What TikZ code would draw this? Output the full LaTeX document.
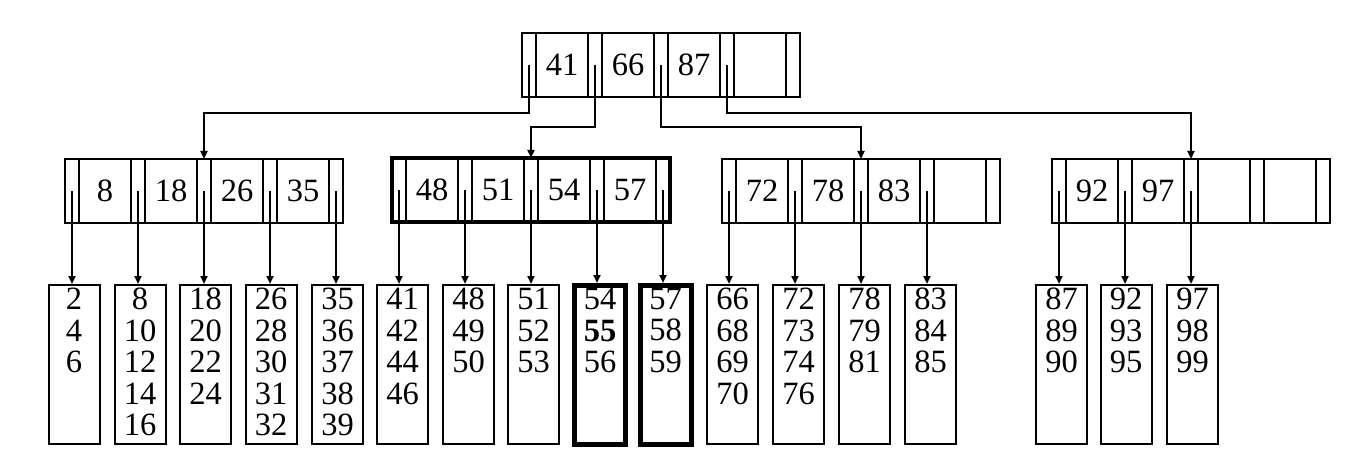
\documentclass[tikz,border=0pt]{standalone}
\usepackage{fontspec}
\setmainfont{Liberation Serif}
\usetikzlibrary{arrows.meta}
\tikzset{
  conn/.style={line width=2pt, -{Triangle[length=8pt,width=7pt]}},
  keylabel/.style={inner sep=0pt, font=\fontsize{32.5}{31.5}\selectfont},
  leafbox/.style={draw, line width=2pt, minimum width=51pt, minimum height=159pt, anchor=north, inner sep=0pt},
  hotleaf/.style={leafbox, line width=5pt},
  leaftext/.style={inner sep=0pt, anchor=north, align=center, font=\fontsize{32.5}{31.5}\selectfont},
}
% name, xleft, ytop, k1, k2, k3, k4, frame width
\newcommand\bnode[8]{%
  \begin{scope}[shift={(#2,#3)}]
    \foreach \xa in {14,66,80,132,146,198,212,264}
      \draw[line width=2pt] (\xa,0) -- (\xa,64);
    \node[draw, line width=#8, minimum width=278pt, minimum height=64pt, inner sep=0pt, anchor=north west, outer sep=0pt] (#1) at (0,0) {};
    \node[keylabel] (#1k1) at (40,32) {#4};
    \node[keylabel] (#1k2) at (106,32) {#5};
    \node[keylabel] (#1k3) at (172,32) {#6};
    \node[keylabel] (#1k4) at (238,32) {#7};
    \coordinate (#1p0) at (7,32);
    \coordinate (#1p1) at (73,32);
    \coordinate (#1p2) at (139,32);
    \coordinate (#1p3) at (205,32);
    \coordinate (#1p4) at (271,32);
  \end{scope}}
\begin{document}
\begin{tikzpicture}[x=1pt,y=-1pt]
\useasboundingbox (0,0) rectangle (1365,473);
\fill[white] (0,0) rectangle (1365,473);

\bnode{R}{522}{33}{41}{66}{87}{}{2pt}
\bnode{A}{65}{159}{8}{18}{26}{35}{2pt}
\bnode{B}{392}{158}{48}{51}{54}{57}{4.5pt}
\bnode{C}{722}{159}{72}{78}{83}{}{2pt}
\bnode{D}{1052}{159}{92}{97}{}{}{2pt}

% leaves
\node[leafbox] (L1) at (74.5,284) {};
\node[leafbox] (L2) at (140,284) {};
\node[leafbox] (L3) at (205.5,284) {};
\node[leafbox] (L4) at (271,284) {};
\node[leafbox] (L5) at (337.5,284) {};
\node[leafbox] (L6) at (402.5,284) {};
\node[leafbox] (L7) at (468.5,284) {};
\node[leafbox] (L8) at (533.5,284) {};
\node[hotleaf] (L9) at (600,283) {};
\node[hotleaf] (L10) at (665.5,283) {};
\node[leafbox] (L11) at (732.5,284) {};
\node[leafbox] (L12) at (798.5,284) {};
\node[leafbox] (L13) at (864.5,284) {};
\node[leafbox] (L14) at (930.5,284) {};
\node[leafbox] (L15) at (1061.5,284) {};
\node[leafbox] (L16) at (1126,284) {};
\node[leafbox] (L17) at (1192.5,284) {};

\node[leaftext] (T1) at (74,288) {2\\4\\6};
\node[leaftext] (T2) at (140,288) {8\\10\\12\\14\\16};
\node[leaftext] (T3) at (205.5,288) {18\\20\\22\\24};
\node[leaftext] (T4) at (271,288) {26\\28\\30\\31\\32};
\node[leaftext] (T5) at (337.5,288) {35\\36\\37\\38\\39};
\node[leaftext] (T6) at (402.5,288) {41\\42\\44\\46};
\node[leaftext] (T7) at (468.5,288) {48\\49\\50};
\node[leaftext] (T8) at (533.5,288) {51\\52\\53};
\node[leaftext] (T9) at (600,288) {54\\\textbf{55}\\56};
\node[leaftext] (T10) at (665.5,288) {57\\58\\59};
\node[leaftext] (T11) at (732.5,288) {66\\68\\69\\70};
\node[leaftext] (T12) at (798.5,288) {72\\73\\74\\76};
\node[leaftext] (T13) at (864.5,288) {78\\79\\81};
\node[leaftext] (T14) at (930.5,288) {83\\84\\85};
\node[leaftext] (T15) at (1061.5,288) {87\\89\\90};
\node[leaftext] (T16) at (1126,288) {92\\93\\95};
\node[leaftext] (T17) at (1192.5,288) {97\\98\\99};

% root to second level
\coordinate (hA) at (0,113);
\coordinate (hB) at (0,127);
\draw[conn] (Rp0) -- (Rp0 |- hA) -| (Ap2 |- A.north);
\draw[conn] (Rp1) -- (Rp1 |- hB) -| (Bp2 |- B.north);
\draw[conn] (Rp2) -- (Rp2 |- hB) -| (Cp2 |- C.north);
\draw[conn] (Rp3) -- (Rp3 |- hA) -| (Dp2 |- D.north);

% second level to leaves
\draw[conn] (Ap0) -- (Ap0 |- L1.north);
\draw[conn] (Ap1) -- (Ap1 |- L2.north);
\draw[conn] (Ap2) -- (Ap2 |- L3.north);
\draw[conn] (Ap3) -- (Ap3 |- L4.north);
\draw[conn] (Ap4) -- (Ap4 |- L5.north);
\draw[conn] (Bp0) -- (Bp0 |- L6.north);
\draw[conn] (Bp1) -- (Bp1 |- L7.north);
\draw[conn] (Bp2) -- (Bp2 |- L8.north);
\draw[conn] (Bp3) -- (Bp3 |- L9.north);
\draw[conn] (Bp4) -- (Bp4 |- L10.north);
\draw[conn] (Cp0) -- (Cp0 |- L11.north);
\draw[conn] (Cp1) -- (Cp1 |- L12.north);
\draw[conn] (Cp2) -- (Cp2 |- L13.north);
\draw[conn] (Cp3) -- (Cp3 |- L14.north);
\draw[conn] (Dp0) -- (Dp0 |- L15.north);
\draw[conn] (Dp1) -- (Dp1 |- L16.north);
\draw[conn] (Dp2) -- (Dp2 |- L17.north);
\end{tikzpicture}
\end{document}
